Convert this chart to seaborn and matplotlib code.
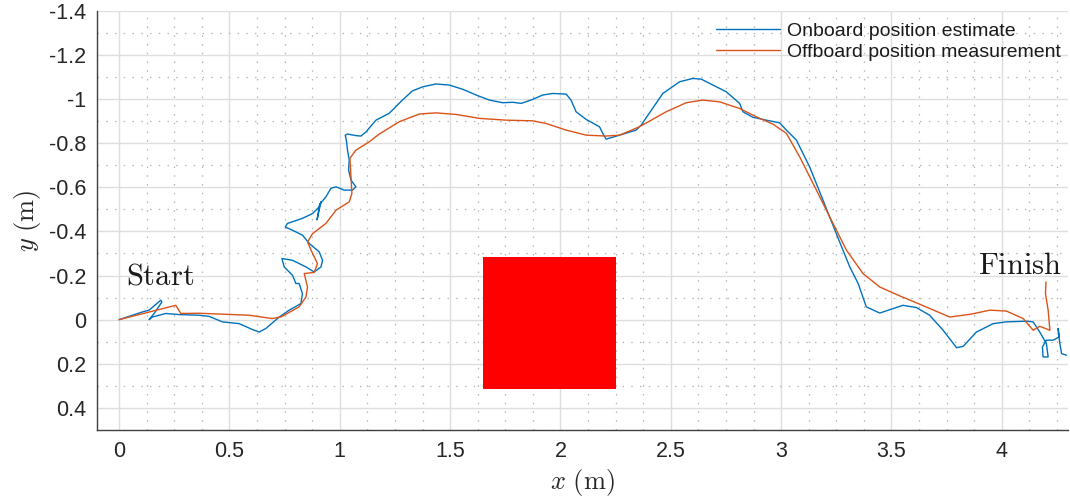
import matplotlib
matplotlib.use("Agg")
import matplotlib.pyplot as plt
import seaborn as sns
import numpy as np
import pandas as pd
from matplotlib.ticker import MultipleLocator

sns.set_style("white")
plt.rcParams["font.family"] = ["Liberation Sans", "DejaVu Sans"]
plt.rcParams["mathtext.fontset"] = "cm"
plt.rcParams["axes.unicode_minus"] = False

##############################################################################
# Data (metres)
##############################################################################

onboard_x = [
    0.000, 0.106, 0.136, 0.189, 0.194, 0.159, 0.136, 0.151, 0.212, 0.272,
    0.363, 0.408, 0.468, 0.544, 0.605, 0.635, 0.665, 0.726, 0.771, 0.824,
    0.831, 0.816, 0.801, 0.786, 0.748, 0.738, 0.786, 0.847, 0.884, 0.915,
    0.922, 0.907, 0.862, 0.831, 0.786, 0.753, 0.763, 0.831, 0.877, 0.907,
    0.915, 0.897, 0.909, 0.937, 0.960, 0.983, 1.020, 1.058, 1.073, 1.051,
    1.040, 1.043, 1.035, 1.031, 1.025, 1.035, 1.073, 1.096, 1.119, 1.164,
    1.224, 1.285, 1.330, 1.376, 1.436, 1.497, 1.557, 1.618, 1.678, 1.738,
    1.784, 1.822, 1.874, 1.920, 1.965, 2.026, 2.048, 2.071, 2.117, 2.177,
    2.192, 2.207, 2.268, 2.343, 2.366, 2.464, 2.540, 2.600, 2.638, 2.691,
    2.751, 2.812, 2.827, 2.872, 2.933, 2.993, 3.024, 3.069, 3.129, 3.190,
    3.250, 3.311, 3.349, 3.386, 3.447, 3.507, 3.552, 3.613, 3.673, 3.734,
    3.795, 3.825, 3.885, 3.961, 4.021, 4.112, 4.142, 4.172, 4.202, 4.210,
    4.187, 4.184, 4.202, 4.233, 4.260, 4.255, 4.263, 4.271, 4.293,
]
onboard_y = [
    0.000, -0.035, -0.043, -0.088, -0.080, -0.028, 0.000, -0.012, -0.028, -0.023,
    -0.020, -0.015, 0.010, 0.018, 0.045, 0.056, 0.040, -0.012, -0.043, -0.073,
    -0.118, -0.164, -0.164, -0.201, -0.239, -0.277, -0.269, -0.239, -0.216, -0.239,
    -0.269, -0.307, -0.345, -0.383, -0.405, -0.420, -0.436, -0.459, -0.481, -0.511,
    -0.534, -0.452, -0.523, -0.556, -0.595, -0.602, -0.587, -0.587, -0.602, -0.632,
    -0.678, -0.723, -0.768, -0.806, -0.836, -0.841, -0.834, -0.832, -0.851, -0.904,
    -0.935, -0.996, -1.037, -1.055, -1.068, -1.063, -1.044, -1.018, -0.995, -0.983,
    -0.985, -0.980, -0.998, -1.018, -1.025, -1.022, -0.995, -0.942, -0.907, -0.874,
    -0.844, -0.818, -0.836, -0.859, -0.882, -1.025, -1.078, -1.093, -1.090, -1.063,
    -1.033, -0.980, -0.942, -0.917, -0.904, -0.892, -0.859, -0.814, -0.693, -0.541,
    -0.390, -0.239, -0.164, -0.058, -0.030, -0.050, -0.065, -0.055, -0.020, 0.048,
    0.127, 0.121, 0.056, 0.018, 0.010, 0.007, 0.010, 0.056, 0.108, 0.169,
    0.169, 0.124, 0.093, 0.093, 0.078, 0.040, 0.108, 0.154, 0.161,
]

offboard_x = [
    0.000, 0.257, 0.280, 0.363, 0.590, 0.694, 0.733, 0.816, 0.847, 0.854,
    0.839, 0.884, 0.899, 0.870, 0.854, 0.877, 0.937, 0.983, 1.043, 1.055,
    1.051, 1.046, 1.073, 1.134, 1.179, 1.270, 1.361, 1.436, 1.527, 1.633,
    1.754, 1.874, 1.935, 2.026, 2.117, 2.207, 2.268, 2.358, 2.479, 2.570,
    2.645, 2.721, 2.812, 2.888, 2.963, 3.024, 3.084, 3.160, 3.235, 3.296,
    3.371, 3.447, 3.537, 3.628, 3.764, 3.855, 3.946, 4.021, 4.097, 4.142,
    4.172, 4.218, 4.210, 4.198, 4.200,
]
offboard_y = [
    0.000, -0.065, -0.028, -0.029, -0.020, -0.005, -0.012, -0.058, -0.103, -0.148,
    -0.209, -0.214, -0.254, -0.315, -0.352, -0.390, -0.436, -0.496, -0.534, -0.572,
    -0.647, -0.731, -0.768, -0.806, -0.841, -0.897, -0.932, -0.937, -0.930, -0.912,
    -0.904, -0.901, -0.889, -0.859, -0.836, -0.832, -0.836, -0.874, -0.942, -0.983,
    -0.995, -0.987, -0.957, -0.919, -0.886, -0.844, -0.738, -0.587, -0.436, -0.315,
    -0.209, -0.148, -0.108, -0.070, -0.012, -0.024, -0.043, -0.039, -0.005, 0.048,
    0.030, 0.048, -0.043, -0.118, -0.171,
]

obstacle_x = [1.65, 2.25]
obstacle_y = [-0.285, 0.315]

start_pos = (0.03, -0.16)
finish_pos = (4.275, -0.205)

x_ticks = [0, 0.5, 1, 1.5, 2, 2.5, 3, 3.5, 4]
y_ticks = [-1.4, -1.2, -1, -0.8, -0.6, -0.4, -0.2, 0, 0.2, 0.4]

series_names = ["Onboard position estimate", "Offboard position measurement"]
colors = ["#0072BD", "#D95319"]

##############################################################################
# Plot
##############################################################################

df = pd.concat(
    [
        pd.DataFrame({"x": onboard_x, "y": onboard_y, "series": series_names[0],
                      "order": np.arange(len(onboard_x))}),
        pd.DataFrame({"x": offboard_x, "y": offboard_y, "series": series_names[1],
                      "order": np.arange(len(offboard_x))}),
    ],
    ignore_index=True,
)

fig = plt.figure(figsize=(10.7, 5.01), dpi=100)
ax = fig.add_axes([97 / 1070, 71 / 501, 971 / 1070, 419.3 / 501])

# Obstacle
ax.fill_between(obstacle_x, obstacle_y[0], obstacle_y[1], color="red", lw=0, zorder=2)

sns.lineplot(
    data=df,
    x="x",
    y="y",
    hue="series",
    hue_order=series_names,
    palette=colors,
    sort=False,
    estimator=None,
    units="series",
    linewidth=1.0,
    ax=ax,
    zorder=3,
)

ax.set_xlim(-0.1, 4.3)
ax.set_ylim(0.5, -1.4)

ax.set_xticks(x_ticks)
ax.set_xticklabels([f"{v:g}" for v in x_ticks])
ax.set_yticks(y_ticks)
ax.set_yticklabels([f"{v:g}" for v in y_ticks])
ax.xaxis.set_minor_locator(MultipleLocator(0.125))
ax.yaxis.set_minor_locator(MultipleLocator(0.1))

ax.grid(True, which="major", color="#dedede", linewidth=1.0, linestyle="-")
ax.grid(True, which="minor", color="#b4b4b4", linewidth=0.9, linestyle=(0, (1.2, 5.8)))
ax.set_axisbelow(True)

ax.tick_params(axis="both", which="major", direction="in", length=7, width=1.0,
               color="#404040", labelsize=15.5, labelcolor="#262626", pad=8)
ax.tick_params(axis="both", which="minor", length=0)

for side in ["top", "right"]:
    ax.spines[side].set_visible(False)
for side in ["left", "bottom"]:
    ax.spines[side].set_color("#404040")
    ax.spines[side].set_linewidth(1.0)

ax.set_xlabel(r"$x\ \mathrm{(m)}$", fontsize=19, color="#262626")
ax.set_ylabel(r"$y\ \mathrm{(m)}$", fontsize=19, color="#262626")
ax.xaxis.set_label_coords(0.5, -0.126)
ax.yaxis.set_label_coords(-0.072, 0.5)
ax.xaxis.label.set_va("center")
ax.yaxis.label.set_va("center")

ax.text(*start_pos, r"$\mathrm{Start}$", fontsize=22, ha="left", va="baseline", color="#1a1a1a")
ax.text(*finish_pos, r"$\mathrm{Finish}$", fontsize=22, ha="right", va="baseline", color="#1a1a1a")

leg = ax.legend(
    loc="upper left",
    bbox_to_anchor=(0.6375, 0.973),
    frameon=False,
    fontsize=14,
    handlelength=3.3,
    handletextpad=0.35,
    labelspacing=0.2,
    borderpad=0,
    borderaxespad=0,
)
for t in leg.get_texts():
    t.set_color("#1a1a1a")

fig.savefig("out.png", dpi=100)
